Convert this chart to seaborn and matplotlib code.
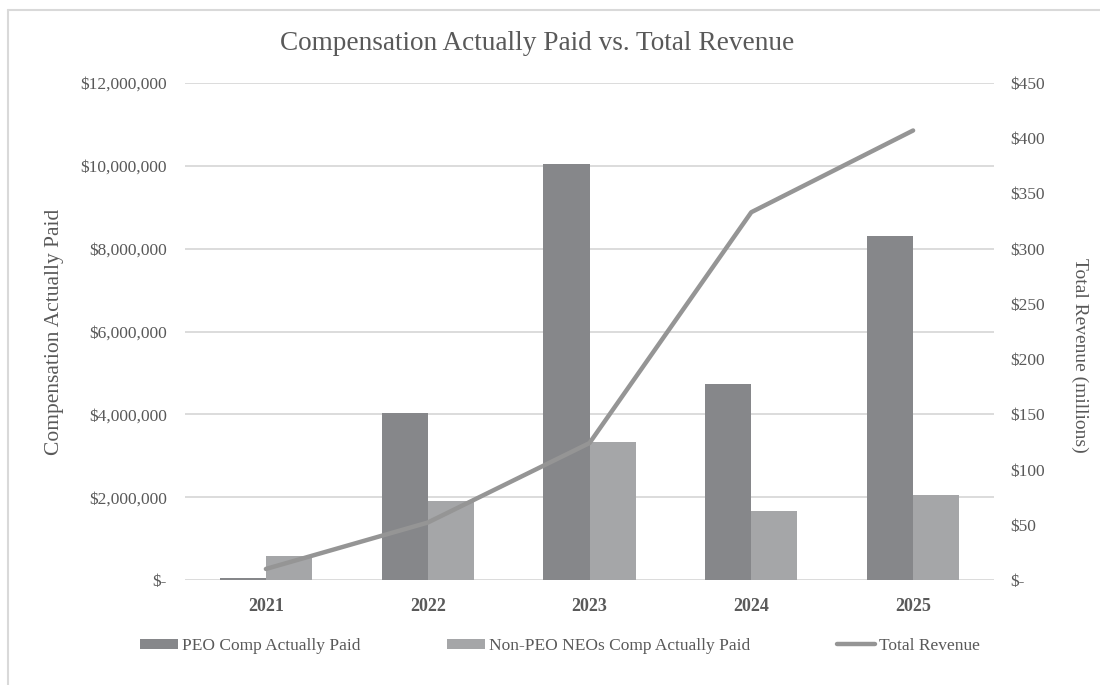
import matplotlib
matplotlib.use("Agg")
import matplotlib.pyplot as plt
import seaborn as sns
import pandas as pd
import numpy as np
from matplotlib.lines import Line2D
from matplotlib.patches import Patch
from matplotlib.ticker import FuncFormatter, MultipleLocator

years = ["2021", "2022", "2023", "2024", "2025"]
peo_cap = [40000, 4030000, 10050000, 4730000, 8300000]
non_peo_cap = [580000, 1900000, 3330000, 1660000, 2050000]
revenue = [10, 52, 124, 333, 407]
series_names = ["PEO Comp Actually Paid", "Non-PEO NEOs Comp Actually Paid", "Total Revenue"]

sns.set_theme(style="white")
plt.rcParams['font.family'] = ['Liberation Serif', 'DejaVu Serif']

TXT = "#595959"
C_PEO = "#86878A"
C_NON = "#A5A6A8"
C_LINE = "#959595"
GRID = "#D9D9D9"

df = pd.DataFrame({
    "year": years * 2,
    "value": peo_cap + non_peo_cap,
    "series": [series_names[0]] * len(years) + [series_names[1]] * len(years),
})

fig = plt.figure(figsize=(11, 6.85), dpi=100)
ax = fig.add_axes([185/1100, 1 - 580/685, (994-185)/1100, (580-83)/685])

sns.barplot(data=df, x="year", y="value", hue="series", palette=[C_PEO, C_NON],
            width=0.57, gap=0, ax=ax, legend=False, saturation=1, edgecolor="none")

ax.set_ylim(0, 12000000)
ax.yaxis.set_major_locator(MultipleLocator(2000000))
ax.yaxis.set_major_formatter(FuncFormatter(lambda v, p: "$-" if v == 0 else f"${v:,.0f}"))
ax.grid(axis="y", color=GRID, linewidth=1.3)
ax.set_axisbelow(True)
for s in ax.spines.values():
    s.set_visible(False)
ax.tick_params(axis="y", length=0, pad=13, labelsize=12.5, labelcolor=TXT)
ax.tick_params(axis="x", length=0, pad=13, labelsize=13, labelcolor=TXT)
for t in ax.get_xticklabels():
    t.set_fontweight("bold")
ax.set_xlabel("")
ax.set_ylabel("Compensation Actually Paid", fontsize=15.5, color=TXT)
ax.yaxis.set_label_coords(-0.149, 0.5)

ax2 = ax.twinx()
sns.lineplot(x=np.arange(len(years)), y=revenue, ax=ax2, color=C_LINE, linewidth=3.2)
ax2.set_ylim(0, 450)
ax2.yaxis.set_major_locator(MultipleLocator(50))
ax2.yaxis.set_major_formatter(FuncFormatter(lambda v, p: "$-" if v == 0 else f"${v:,.0f}"))
for s in ax2.spines.values():
    s.set_visible(False)
ax2.tick_params(axis="y", length=0, pad=12, labelsize=12.5, labelcolor=TXT)
ax2.set_ylabel("Total Revenue (millions)", fontsize=14, color=TXT, rotation=270)
ax2.yaxis.set_label_coords(1.116, 0.452)
ax.set_xlim(-0.5, len(years) - 0.5)

fig.text(537.5/1100, 1 - 44/685, "Compensation Actually Paid vs. Total Revenue",
         ha="center", va="center", fontsize=19.6, color=TXT)

handles = [Patch(facecolor=C_PEO, edgecolor="none"),
           Patch(facecolor=C_NON, edgecolor="none"),
           Line2D([0], [0], color=C_LINE, linewidth=3.2)]
fig.legend(handles, series_names, loc="center", bbox_to_anchor=(560/1100, 1 - 646/685),
           ncol=3, frameon=False, fontsize=12.5, labelcolor=TXT,
           handlelength=2.2, handleheight=0.5, handletextpad=0.25, columnspacing=4.95)

# outer chart border
fig.add_artist(Line2D([8/1100, 8/1100], [0, 1 - 10/685], transform=fig.transFigure,
                      color=GRID, linewidth=1.5))
fig.add_artist(Line2D([8/1100, 1], [1 - 10/685, 1 - 10/685], transform=fig.transFigure,
                      color=GRID, linewidth=1.5))

fig.savefig("out.png", dpi=100, facecolor="white")
